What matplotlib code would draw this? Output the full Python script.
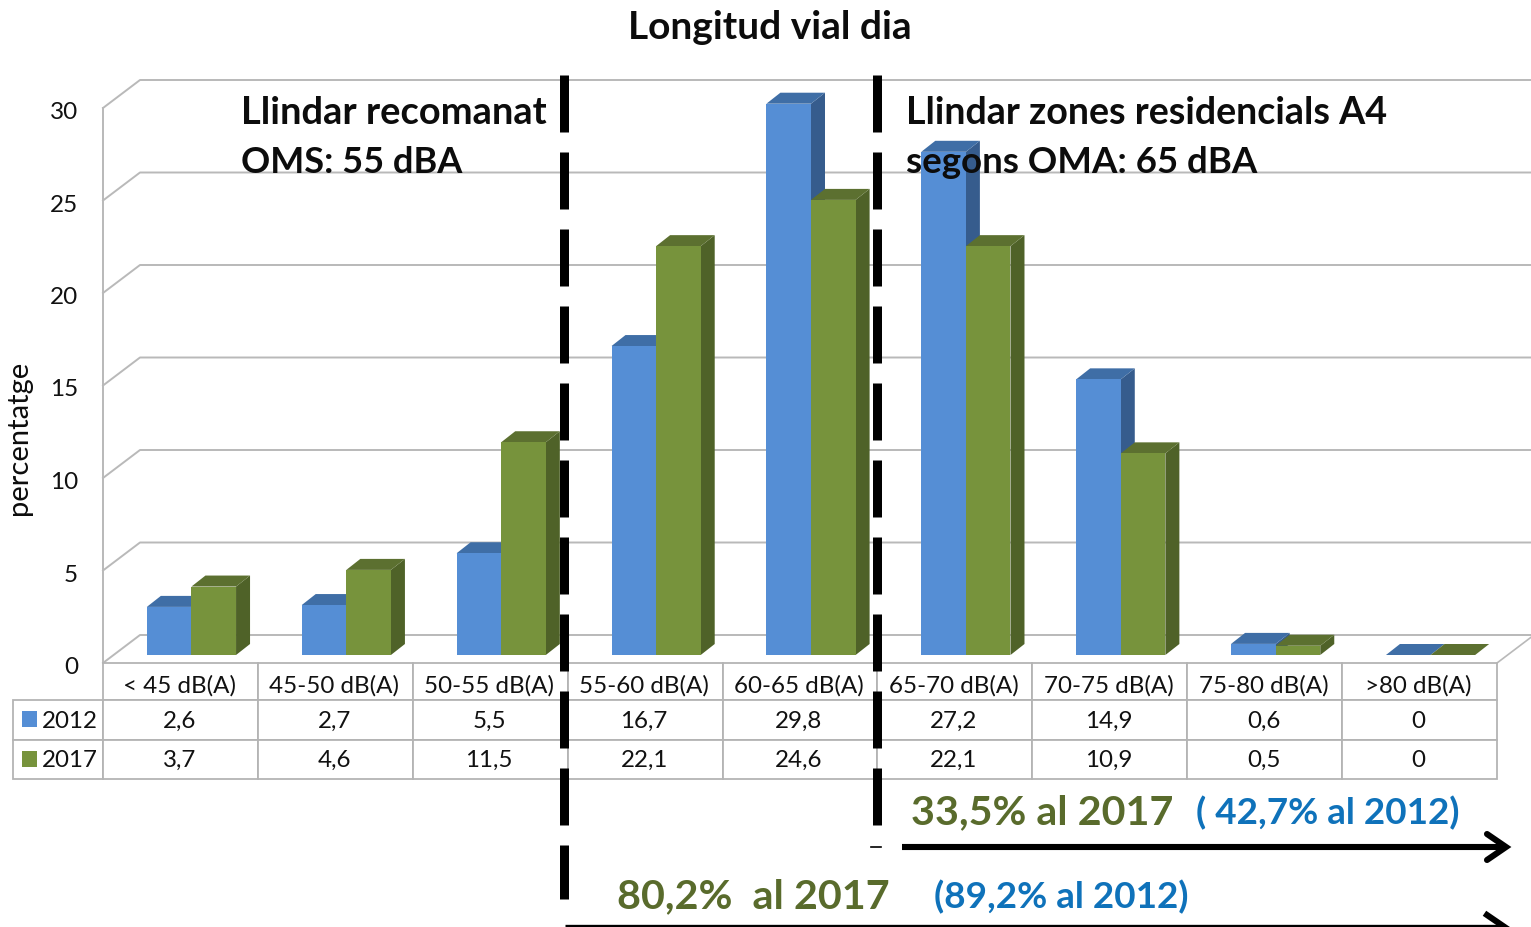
import matplotlib
matplotlib.use("Agg")
import matplotlib.pyplot as plt
import matplotlib.transforms as mtrans
from matplotlib.table import Table
import numpy as np

categories = ["< 45 dB(A)", "45-50 dB(A)", "50-55 dB(A)", "55-60 dB(A)", "60-65 dB(A)",
              "65-70 dB(A)", "70-75 dB(A)", "75-80 dB(A)", ">80 dB(A)"]
series_names = ["2012", "2017"]
values_2012 = [2.6, 2.7, 5.5, 16.7, 29.8, 27.2, 14.9, 0.6, 0]
values_2017 = [3.7, 4.6, 11.5, 22.1, 24.6, 22.1, 10.9, 0.5, 0]
y_ticks = [0, 5, 10, 15, 20, 25, 30]

W, H = 1531, 927
plt.rcParams['font.family'] = ['Lato', 'DejaVu Sans']
fig = plt.figure(figsize=(W / 100, H / 100), dpi=100, facecolor='white')

# main axes: front plane of the 3D box
L, R, Y0, Y30 = 103, 1497, 663, 108
ax = fig.add_axes([L / W, 1 - Y0 / H, (R - L) / W, (Y0 - Y30) / H])
ax.set_xlim(0, 9)
ax.set_ylim(0, 30)
ppx = 9 / (R - L)
ppy = 30 / (Y0 - Y30)
for s in ['top', 'right', 'bottom']:
    ax.spines[s].set_visible(False)
GRID = '#b9b9b9'
ax.spines['left'].set_color(GRID)
ax.spines['left'].set_linewidth(1.4)
ax.set_xticks([])
ax.set_yticks(y_ticks)
ax.tick_params(axis='y', length=0, pad=18, labelsize=17.5, labelcolor='#111111')
for lab in ax.get_yticklabels():
    lab.set_transform(lab.get_transform() + mtrans.Affine2D().translate(0, -2.5))
ax.patch.set_alpha(0)

# walls
wx, wy = 37 * ppx, 28 * ppy
for t in y_ticks:
    ax.plot([0, wx, 9.3], [t, t + wy, t + wy], color=GRID, lw=1.4, clip_on=False, zorder=1)
ax.plot([9, 9 + wx], [0, wy], color=GRID, lw=1.2, clip_on=False, zorder=1)

# 3D bars
bw = 44.6 * ppx
dx, dy = 14 * ppx, 11 * ppy
shift = ax.transData + mtrans.Affine2D().translate(11, 8)
colours = [('#558ed5', '#3f6ea6', '#365c8d'), ('#77933c', '#5c7030', '#4f6228')]
x = np.arange(9) + 0.5
for k, vals in enumerate([values_2012, values_2017]):
    front, top, side = colours[k]
    left = x - bw + k * bw
    z = 3 + k
    for xi, v in zip(left, vals):
        ax.fill([xi + bw, xi + bw + dx, xi + bw + dx, xi + bw], [0, dy, v + dy, v],
                color=side, transform=shift, clip_on=False, zorder=z, lw=0)
        ax.fill([xi, xi + bw, xi + bw + dx, xi + dx], [v, v, v + dy, v + dy],
                color=top, transform=shift, clip_on=False, zorder=z, lw=0)
    ax.bar(left, vals, bw, align='edge', color=front, transform=shift, clip_on=False, zorder=z + 0.5, lw=0)
ax.set_xlim(0, 9)
ax.set_ylim(0, 30)

# data table
fmt = lambda v: str(v).replace('.', ',')
lab_w = 90 / (R - L)
tb_h = 116 / (Y0 - Y30)
tbl = Table(ax, bbox=[0, -tb_h, 1, tb_h])
row_h = {0: 37 / (Y0 - Y30), 1: 40 / (Y0 - Y30), 2: 39 / (Y0 - Y30)}
for c, name in enumerate(categories):
    tbl.add_cell(0, c, 1 / 9, row_h[0], text=name, loc='center')
for r, (name, vals) in enumerate(zip(series_names, [values_2012, values_2017]), start=1):
    tbl.add_cell(r, -1, lab_w, row_h[r], text=name, loc='right')
    for c, v in enumerate(vals):
        tbl.add_cell(r, c, 1 / 9, row_h[r], text=fmt(v), loc='center')
tbl.auto_set_font_size(False)
for (r, c), cell in tbl.get_celld().items():
    cell.set_edgecolor('#b4b4b4')
    cell.set_linewidth(1.3)
    txt = cell.get_text()
    txt.set_fontsize(17.4)
    txt.set_color('#111111')
    txt.set_transform(mtrans.Affine2D().translate(-1, -4.5 if r == 0 else -1))
    if c == -1:
        cell.PAD = 0.045
tbl.set_zorder(6)
ax.add_table(tbl)

# overlay in image pixels for annotations
ov = fig.add_axes([0, 0, 1, 1], zorder=10)
ov.set_xlim(0, W)
ov.set_ylim(H, 0)
ov.axis('off')

for yy, col in zip([719, 759], [colours[0][0], colours[1][0]]):
    ov.fill([22, 37, 37, 22], [yy - 8, yy - 8, yy + 8, yy + 8], color=col, lw=0)

# threshold dashed lines
lw = 9 * 0.72
for xl, y1 in [(564, 899), (876.5, 826)]:
    ov.plot([xl, xl], [75, y1], color='black', lw=lw, solid_capstyle='butt',
            dash_capstyle='butt', linestyle=(0, (57 / 9, 20 / 9)))
ov.plot([871, 881], [847, 847], color='black', lw=1.2)

# arrows
ov.plot([902, 1505], [847, 847], color='black', lw=4.4, solid_capstyle='butt')
ov.plot([1487, 1506, 1487], [834, 847, 860], color='black', lw=4.4, solid_capstyle='round', solid_joinstyle='miter')
ov.plot([565, 1505], [925.5, 925.5], color='black', lw=2.4, solid_capstyle='butt')
ov.plot([1487, 1506, 1487], [915, 928, 941], color='black', lw=4.4, solid_joinstyle='miter')

DARK = '#0c0c0c'
OLIVE = '#596b2c'
BLUE = '#0f72ba'
ov.text(769.5, 27, "Longitud vial dia", ha='center', va='center', fontsize=28, fontweight='bold', color=DARK)
ov.text(241, 124, "Llindar recomanat", fontsize=27.4, fontweight='bold', color=DARK)
ov.text(241, 173, "OMS: 55 dBA", fontsize=26, fontweight='bold', color=DARK)
ov.text(906, 124, "Llindar zones residencials A4", fontsize=27.1, fontweight='bold', color=DARK)
ov.text(906, 173, "segons OMA: 65 dBA", fontsize=26.4, fontweight='bold', color=DARK)
ov.text(911, 824, "33,5% al 2017", fontsize=29.7, fontweight='bold', color=OLIVE)
ov.text(1196, 824, "( 42,7% al 2012)", fontsize=26.6, fontweight='bold', color=BLUE)
ov.text(617, 908, "80,2%  al 2017", fontsize=29.8, fontweight='bold', color=OLIVE)
ov.text(934, 908, "(89,2% al 2012)", fontsize=26.6, fontweight='bold', color=BLUE)
ov.text(19, 438, "percentatge", rotation=90, ha='center', va='center', fontsize=21, color=DARK)

fig.savefig('out.png', dpi=100, facecolor='white')
